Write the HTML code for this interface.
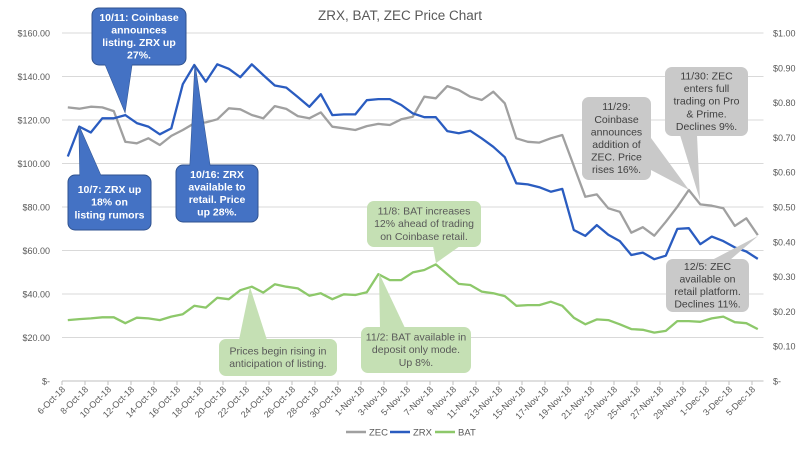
<!DOCTYPE html>
<html><head><meta charset="utf-8"><style>
html,body{margin:0;padding:0;background:#fff;}
svg{display:block;font-family:"Liberation Sans",sans-serif;}
</style></head><body>
<svg id="chart" width="800" height="451" viewBox="0 0 800 451">
<text x="400" y="20" text-anchor="middle" font-size="13.5" fill="#595959">ZRX, BAT, ZEC Price Chart</text>
<g id="grid"></g><g id="axes"></g><g id="series"></g><g id="callouts"></g>
<g font-size="9.5" fill="#595959">
<line x1="346" y1="432" x2="366" y2="432" stroke="#A0A0A0" stroke-width="2.5"/>
<text x="369" y="435.5">ZEC</text>
<line x1="390" y1="432" x2="410" y2="432" stroke="#2A5CC0" stroke-width="2.5"/>
<text x="413" y="435.5">ZRX</text>
<line x1="435" y1="432" x2="455" y2="432" stroke="#8DC86A" stroke-width="2.5"/>
<text x="458" y="435.5">BAT</text>
</g>
</svg>
<script>
const NS="http://www.w3.org/2000/svg";
const zecValues=[125.8,125.2,126.1,125.8,124.1,110.0,109.3,111.6,108.5,112.7,115.4,118.5,118.9,120.3,125.4,124.9,122.3,120.8,126.4,125.1,121.8,120.8,123.5,116.9,116.2,115.4,117.2,118.2,117.7,120.3,121.5,130.7,130.0,135.6,133.8,130.7,129.2,133.0,127.7,111.6,110.0,109.6,111.6,113.1,98.9,84.7,85.8,79.4,77.8,68.2,70.7,66.8,73.2,80.1,87.8,81.2,80.6,79.4,71.3,74.8,67.1];
const zrxValues=[0.645,0.731,0.714,0.755,0.755,0.764,0.741,0.731,0.709,0.726,0.853,0.908,0.860,0.910,0.897,0.873,0.910,0.879,0.849,0.843,0.816,0.788,0.824,0.764,0.766,0.766,0.807,0.810,0.810,0.793,0.769,0.758,0.758,0.718,0.712,0.719,0.697,0.673,0.643,0.568,0.565,0.557,0.544,0.552,0.434,0.417,0.448,0.420,0.402,0.362,0.369,0.350,0.360,0.437,0.439,0.393,0.415,0.402,0.384,0.372,0.351];
const batValues=[0.175,0.178,0.180,0.183,0.183,0.166,0.182,0.180,0.175,0.185,0.192,0.216,0.211,0.239,0.235,0.261,0.271,0.254,0.278,0.271,0.266,0.245,0.252,0.235,0.249,0.247,0.255,0.307,0.290,0.290,0.312,0.319,0.335,0.307,0.279,0.276,0.257,0.252,0.244,0.216,0.218,0.218,0.228,0.216,0.182,0.163,0.177,0.175,0.163,0.149,0.147,0.139,0.144,0.172,0.172,0.170,0.180,0.185,0.169,0.166,0.149];
const leftTicks=["$-","$20.00","$40.00","$60.00","$80.00","$100.00","$120.00","$140.00","$160.00"];
const rightTicks=["$-","$0.10","$0.20","$0.30","$0.40","$0.50","$0.60","$0.70","$0.80","$0.90","$1.00"];
const months=["Oct","Nov","Dec"];
const X0=62,CW=11.5,Y0=381,YT=33;
const N=zecValues.length;
function xPos(i){return X0+CW*(i+0.5);}
function yLeft(v){return Y0-(v/160)*(Y0-YT);}
function yRight(v){return Y0-(v/1.0)*(Y0-YT);}
function mk(tag,attrs,parent){const e=document.createElementNS(NS,tag);for(const k in attrs)e.setAttribute(k,attrs[k]);parent.appendChild(e);return e;}
const grid=document.getElementById('grid'),axes=document.getElementById('axes');
const xEnd=X0+CW*N;
leftTicks.forEach((t,i)=>{const v=i*20;const y=yLeft(v);
 const l=mk('line',{x1:X0,x2:xEnd,y1:y,y2:y,stroke:i===0?'#bfbfbf':'#d9d9d9','stroke-width':1},grid);
 
 
 const tx=mk('text',{x:50,y:y+3.5,'text-anchor':'end','font-size':9,fill:'#595959'},axes);tx.textContent=t;
 
 });
rightTicks.forEach((t,i)=>{const y=yRight(i*0.1);
 const tx=mk('text',{x:773,y:y+3.5,'font-size':9,fill:'#595959'},axes);tx.textContent=t;
 
 });
const start=new Date(2018,9,6);
for(let i=0;i<=N;i+=2){const x=X0+CW*i;
 const tk=mk('line',{x1:x,x2:x,y1:Y0,y2:Y0+4,stroke:'#bfbfbf'},axes);
 
 
 if(i<N){const d=new Date(start.getTime()+i*86400000);const lab=d.getDate()+'-'+months[d.getMonth()-9]+'-18';
 const cx=xPos(i)-2;
 const tx=mk('text',{x:cx,y:Y0+9,'text-anchor':'end','font-size':9,fill:'#595959',transform:`rotate(-45 ${cx} ${Y0+9})`},axes);tx.textContent=lab;
 
 }}
const series=document.getElementById('series');
function drawLine(vals,yf,color,name){const pts=vals.map((v,i)=>xPos(i).toFixed(1)+','+yf(v).toFixed(1)).join(' ');
 const p=mk('polyline',{points:pts,fill:'none',stroke:color,'stroke-width':2.3,'stroke-linejoin':'round'},series);
 
 }
drawLine(zecValues,yLeft,'#A0A0A0','zec-line');
drawLine(zrxValues,yRight,'#2A5CC0','zrx-line');
drawLine(batValues,yRight,'#8DC86A','bat-line');
const co=document.getElementById('callouts');
function callout(name,box,tri,fill,stroke,tcol,bold,lines,fs){
 const g=mk('g',{},co);
 const [x,y,w,h]=box;
 const tp=tri.map(p=>p.join(',')).join(' ');
 if(stroke)mk('polygon',{points:tp,fill:fill,stroke:stroke,'stroke-width':1},g);
 mk('rect',{x:x,y:y,width:w,height:h,rx:7,fill:fill,stroke:stroke||'none','stroke-width':1},g);
 mk('polygon',{points:tp,fill:fill},g);
 const lh=fs*1.2;const y0=y+h/2-(lines.length*lh)/2+fs*0.9;
 lines.forEach((s,i)=>{const t=mk('text',{x:x+w/2,y:y0+i*lh,'text-anchor':'middle','font-size':fs,fill:tcol,'font-weight':bold?'bold':'normal'},g);t.textContent=s;});
}
const B='#4472C4',BS='#2F528F';
callout('callout-10-11',[92,8,94,57],[[105,64],[132,64],[125,112]],B,BS,'#fff',true,['10/11: Coinbase','announces','listing. ZRX up','27%.'],10.5);
callout('callout-10-7',[68,175,83,55],[[80,176],[101,176],[79,126]],B,BS,'#fff',true,['10/7: ZRX up','18% on','listing rumors'],10.5);
callout('callout-10-16',[176,165,82,57],[[190,166],[210,166],[195,65]],B,BS,'#fff',true,['10/16: ZRX','available to','retail. Price','up 28%.'],10.5);
const G='#C9C9C9';
callout('callout-11-29',[582,97,69,83],[[651,138],[651,170],[689,190]],G,null,'#404040',false,['11/29:','Coinbase','announces','addition of','ZEC. Price','rises 16%.'],10.5);
callout('callout-11-30',[665,67,83,69],[[680,135],[697,135],[700,200]],G,null,'#404040',false,['11/30: ZEC','enters full','trading on Pro','& Prime.','Declines 9%.'],10.5);
callout('callout-12-5',[666,259,83,53],[[712,260],[730,260],[758,236]],G,null,'#404040',false,['12/5: ZEC','available on','retail platform.','Declines 11%.'],10.5);
const GR='#C5E0B4';
callout('callout-11-8',[367,201,114,46],[[433,246],[460,246],[436,263]],GR,null,'#595959',false,['11/8: BAT increases','12% ahead of trading','on Coinbase retail.'],10.5);
callout('callout-prices-rising',[219,339,118,37],[[239,340],[267,340],[250,287]],GR,null,'#595959',false,['Prices begin rising in','anticipation of listing.'],10.5);
callout('callout-11-2',[361,327,110,46],[[380,328],[405,328],[379,273]],GR,null,'#595959',false,['11/2: BAT available in','deposit only mode.','Up 8%.'],10.5);
</script>
</body></html>
